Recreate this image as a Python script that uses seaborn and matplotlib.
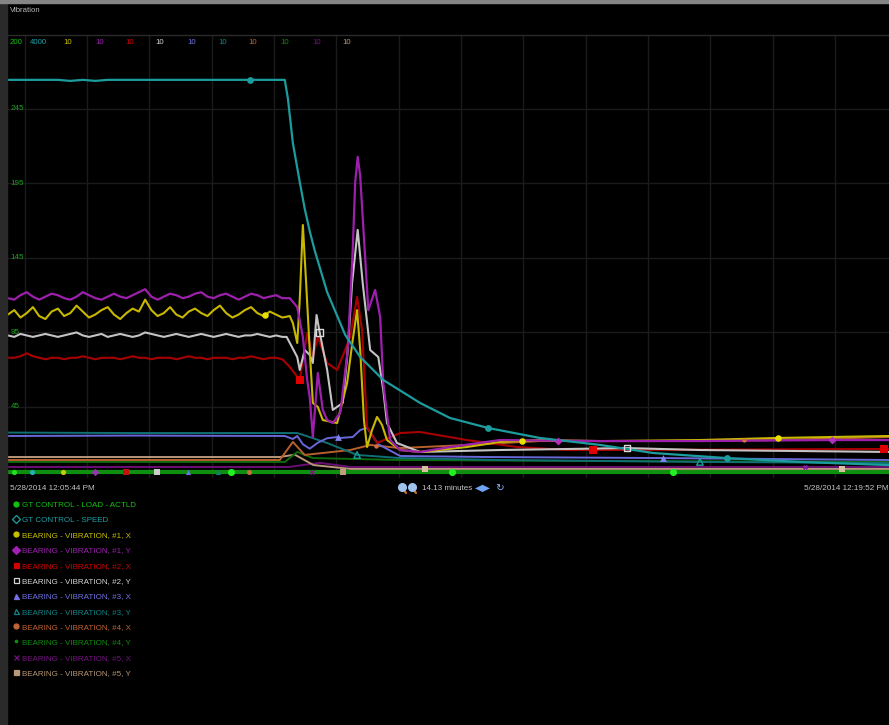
import numpy as np
import pandas as pd
import matplotlib
matplotlib.use("Agg")
import matplotlib.pyplot as plt
from matplotlib.lines import Line2D
from matplotlib.patches import Rectangle
import seaborn as sns

# ---------------- data (time in minutes from 12:05:44 PM, values in left-axis units) -------------
t_early = [0.0, 0.1, 0.2, 0.3, 0.4, 0.5, 0.6, 0.7, 0.8, 0.9, 1.0, 1.1, 1.2, 1.3, 1.4,
           1.5, 1.6, 1.7, 1.8, 1.9, 2.0, 2.1, 2.2, 2.3, 2.4, 2.5, 2.6, 2.7, 2.8, 2.9,
           3.0, 3.1, 3.2, 3.3, 3.4, 3.5, 3.6, 3.7, 3.8, 3.9, 4.0, 4.1, 4.2, 4.3, 4.4]

v_mag_early = [118, 117, 120, 122, 119, 117, 119, 121, 120, 118, 117, 119, 122, 120, 118,
               117, 119, 121, 119, 118, 120, 122, 124, 119, 117, 119, 121, 120, 118, 119,
               121, 122, 119, 118, 120, 121, 119, 117, 119, 121, 120, 118, 119, 120, 118]
v_yel_early = [107, 110, 105, 108, 112, 106, 104, 109, 111, 106, 108, 113, 109, 105, 107,
               110, 112, 107, 104, 108, 111, 109, 117, 110, 106, 108, 112, 107, 105, 109,
               111, 108, 106, 110, 113, 108, 105, 107, 110, 112, 108, 106, 109, 107, 105]
v_wht_early = [93, 92, 94, 93, 92, 93, 94, 93, 92, 93, 94, 95, 93, 92, 93,
               94, 92, 93, 94, 93, 92, 93, 95, 94, 93, 92, 93, 94, 93, 92,
               93, 94, 93, 92, 93, 94, 93, 92, 93, 93, 94, 93, 92, 93, 92]
v_red_early = [78, 78, 79, 81, 79, 78, 77, 78, 78, 77, 78, 78, 79, 78, 77,
               78, 78, 78, 77, 78, 79, 78, 78, 77, 78, 78, 78, 77, 78, 79,
               78, 78, 77, 78, 78, 78, 77, 78, 78, 79, 78, 77, 78, 78, 77]

t_mag_late = [4.52, 4.64, 4.73, 4.80, 4.84, 4.89, 4.97, 5.05, 5.12, 5.21, 5.33, 5.45, 5.53, 5.57,
              5.61, 5.65, 5.69, 5.78, 5.89, 5.97, 6.02, 6.13, 6.29, 6.61, 7.09, 7.89, 9.50, 11.10,
              13.22, 14.13]
v_mag_late = [118, 112, 92, 63, 51.7, 24.8, 67.8, 43, 36.2, 34.2, 41, 83.2, 150.3, 196,
              212.8, 200, 172.5, 110, 123.5, 105.4, 61, 22.8, 16.1, 14.8, 18.1, 22.8, 22.1, 22.1,
              22.8, 22.8]

t_yel_late = [4.52, 4.57, 4.64, 4.68, 4.73, 4.78, 4.84, 4.89, 4.97, 5.05, 5.28, 5.44, 5.53, 5.60,
              5.65, 5.71, 5.76, 5.84, 5.92, 6.00, 6.08, 6.29, 6.61, 7.36, 7.89, 8.53, 9.50, 11.10,
              12.35, 14.13]
v_yel_late = [106, 101.3, 87.9, 116.8, 167.1, 130.2, 83.2, 47.7, 45, 36.2, 34.2, 61.1, 90, 110,
              83.2, 36.2, 18.1, 29.5, 38.3, 32.9, 22.8, 16.1, 14.8, 18.1, 21.5, 22.8, 22.1, 22.8,
              24.2, 25.5]

t_wht_late = [4.47, 4.64, 4.68, 4.76, 4.84, 4.89, 4.95, 5.00, 5.12, 5.21, 5.37, 5.45, 5.52, 5.61,
              5.69, 5.81, 5.94, 6.02, 6.08, 6.24, 6.61, 7.89, 9.93, 11.10, 14.13]
v_wht_late = [92, 78.5, 69.8, 83.2, 79.9, 74.5, 106.7, 95, 69.8, 43, 47.7, 83.2, 128.2, 163.8,
              128.2, 83.2, 78.5, 56.4, 34.2, 20.8, 14.8, 16.1, 17.4, 16.1, 14.8]

t_red_late = [4.52, 4.68, 4.80, 4.89, 4.97, 5.12, 5.28, 5.49, 5.60, 5.68, 5.76, 5.92, 6.29, 6.61,
              7.36, 8.17, 8.97, 9.38, 14.13]
v_red_late = [71.8, 63.1, 94.6, 78.5, 91.9, 74.5, 69.8, 91.9, 118.8, 96.6, 31.5, 20.8, 27.5, 28.2,
              22.8, 18.1, 16.1, 16.1, 16.8]

t_speed = [0, 0.8, 1.0, 1.2, 1.4, 1.6, 4.44, 4.49, 4.57, 4.68, 4.76, 4.84, 4.92, 5.12, 5.41, 5.65,
           6.02, 6.61, 7.09, 7.70, 8.53, 9.50, 10.35, 11.53, 12.71, 14.13]
v_speed = [264.5, 264.5, 263.8, 264.5, 263.8, 264.5, 264.5, 252, 222, 196, 178, 163, 150, 122,
           93.3, 78.5, 63.1, 47.7, 37.6, 30.9, 24.2, 19.5, 14.1, 10.7, 8.1, 6.0]

t_blue = [0, 2.0, 4.44, 4.57, 4.64, 4.73, 4.84, 4.97, 5.12, 5.28, 5.33, 5.53, 5.65, 5.76, 5.94,
          6.29, 7.70, 10.51, 14.13]
v_blue = [25.5, 25.8, 25.5, 23.5, 25.5, 20, 17, 21, 24, 24.8, 24.2, 24.8, 29.5, 31, 20,
          12.1, 11.4, 10.7, 9.4]

t_teal = [0, 2.0, 4.52, 4.64, 4.84, 5.12, 5.60, 6.29, 7.89, 11.10, 14.13]
v_teal = [27.8, 27.5, 27.5, 27.5, 24.8, 20.8, 12.8, 10.7, 9.4, 8.1, 7.4]

t_orange = [0, 4.36, 4.57, 4.76, 5.49, 5.81, 6.29, 7.36, 8.53, 10.35, 12.35, 14.13]
v_orange = [9.4, 9.4, 21.5, 12.8, 16.1, 19.5, 17.4, 19.5, 22.1, 22.1, 22.8, 24.8]

t_dgreen = [0, 4.44, 4.64, 4.89, 6.29, 9.50, 14.13]
v_dgreen = [8.1, 8.1, 14.8, 10.7, 9.4, 8.7, 8.1]

t_purple = [0, 4.5, 5.0, 5.5, 14.13]
v_purple = [4.7, 4.7, 7.5, 4.7, 4.7]

t_tan = [0, 4.36, 4.6, 4.9, 5.5, 14.13]
v_tan = [11.4, 11.4, 13, 6, 3.4, 3.4]

t_load = [0, 14.13]
v_load = [1.3, 1.3]

series_names = ["GT CONTROL - LOAD - ACTLD", "GT CONTROL - SPEED",
                "BEARING - VIBRATION, #1, X", "BEARING - VIBRATION, #1, Y",
                "BEARING - VIBRATION, #2, X", "BEARING - VIBRATION, #2, Y",
                "BEARING - VIBRATION, #3, X", "BEARING - VIBRATION, #3, Y",
                "BEARING - VIBRATION, #4, X", "BEARING - VIBRATION, #4, Y",
                "BEARING - VIBRATION, #5, X", "BEARING - VIBRATION, #5, Y"]
scale_labels = ["200", "4000", "10", "10", "10", "10", "10", "10", "10", "10", "10", "10"]
ytick_vals = [45, 95, 145, 195, 245]
ytick_labels = ["45", "95", "145", "195", "245"]
minute_marks = [0.267 + k for k in range(14)]
# marker times for each series
mk_load = [3.58, 7.12, 10.67]
mk_speed = [3.88, 7.70, 11.53]
mk_yel = [4.12, 8.25, 12.35]
mk_mag = [8.83, 13.22]
mk_red = [4.68, 9.38, 14.06]
mk_wht = [5.00, 9.93]
mk_blue = [5.29, 10.51]
mk_teal = [5.60, 11.10]
mk_orange = [5.90, 11.80]
mk_purple = [12.78]
mk_tan = [6.69, 13.38]
band_times = [0.10, 0.38, 0.88, 1.40, 1.89, 2.39, 2.89, 3.37, 3.87, 4.38, 4.88, 5.37]
start_label = "5/28/2014 12:05:44 PM"
end_label = "5/28/2014 12:19:52 PM"
span_label = "14.13 minutes"

# ---------------- styling ----------------
sns.set_theme(style="dark")
plt.rcParams['font.family'] = ['Liberation Sans', 'DejaVu Sans']

W, H = 889, 725
fig = plt.figure(figsize=(W / 100, H / 100), dpi=100, facecolor='black')

def fx(px):
    return px / W

def fy(py):
    return 1 - py / H

ax = fig.add_axes([fx(8), fy(478), fx(881), (478 - 35) / H])
ax.set_facecolor('black')
ax.set_xlim(0, 14.133)
ax.set_ylim(-2.68, 294.6)

colors = {
    'load': '#0f8f0f', 'speed': '#1c9c9e', 'yel': '#c8b800', 'mag': '#9c20ac',
    'red': '#a80000', 'wht': '#c4c4c4', 'blue': '#6868d8', 'teal': '#0f6f72',
    'orange': '#b8602c', 'dgreen': '#0d6a0d', 'purple': '#6a1074', 'tan': '#b8987a'}
legend_colors = ['#12c012', '#1fa0a6', '#c8c000', '#a020b4', '#d00000', '#d4d4d4',
                 '#7272e6', '#108488', '#c06434', '#0f8a0f', '#761282', '#b89878']

# grid
ax.set_xticks(minute_marks)
ax.set_yticks(ytick_vals)
ax.grid(True, color='#1b1b1b', lw=1.0)
ax.tick_params(labelleft=False, labelbottom=False, length=0)
for s in ['left', 'right', 'bottom']:
    ax.spines[s].set_visible(False)
ax.spines['top'].set_color('#2a2a2a')
ax.spines['top'].set_linewidth(1.0)

def line(t, v, c, lw=1.5, z=2):
    df = pd.DataFrame({'t': t, 'v': v})
    sns.lineplot(data=df, x='t', y='v', ax=ax, color=c, lw=lw, estimator=None,
                 sort=False, zorder=z, legend=False)

def marks(tmk, t, v, c, m, s=22, open_=False, z=4):
    yv = np.interp(tmk, t, v)
    df = pd.DataFrame({'t': tmk, 'v': yv})
    if open_:
        sns.scatterplot(data=df, x='t', y='v', ax=ax, marker=m, s=s, facecolors='none',
                        edgecolor=c, linewidth=1.0, zorder=z, legend=False)
    else:
        sns.scatterplot(data=df, x='t', y='v', ax=ax, marker=m, s=s, color=c,
                        linewidth=0, zorder=z, legend=False)

t_mag = t_early + t_mag_late
v_mag = v_mag_early + v_mag_late
t_yel = t_early + t_yel_late
v_yel = v_yel_early + v_yel_late
t_wht = t_early + t_wht_late
v_wht = v_wht_early + v_wht_late
t_red = t_early + t_red_late
v_red = v_red_early + v_red_late

line(t_load, v_load, colors['load'], lw=3.0, z=2)
line(t_purple, v_purple, colors['purple'], lw=1.4)
line(t_tan, v_tan, colors['tan'], lw=1.4)
line(t_dgreen, v_dgreen, colors['dgreen'], lw=1.4)
line(t_orange, v_orange, colors['orange'], lw=1.4)
line(t_teal, v_teal, colors['teal'], lw=1.4)
line(t_blue, v_blue, colors['blue'], lw=1.4)
line(t_red, v_red, colors['red'], lw=1.5)
line(t_wht, v_wht, colors['wht'], lw=1.5)
line(t_yel, v_yel, colors['yel'], lw=1.5)
line(t_mag, v_mag, colors['mag'], lw=1.6)
line(t_speed, v_speed, colors['speed'], lw=1.6)

marks(mk_load, t_load, v_load, '#22f022', 'o', s=26)
marks(mk_speed, t_speed, v_speed, colors['speed'], 'o', s=24)
marks(mk_yel, t_yel, v_yel, '#e8e000', 'o', s=22)
marks(mk_mag, t_mag, v_mag, '#b030c0', 'D', s=16)
marks(mk_red, t_red, v_red, '#e00000', 's', s=26)
marks(mk_wht, t_wht, v_wht, '#dddddd', 's', s=22, open_=True)
marks(mk_blue, t_blue, v_blue, '#8080f0', '^', s=24)
marks(mk_teal, t_teal, v_teal, '#1a9a9a', '^', s=22, open_=True)
marks(mk_orange, t_orange, v_orange, '#d07040', 'o', s=10)
marks(mk_purple, t_purple, v_purple, '#8a20a0', 'X', s=14)
marks(mk_tan, t_tan, v_tan, '#d8c0a0', 's', s=14)

band_colors = ['#22e022', '#22b0b0', '#d0c800', '#a030b8', '#c01010', '#cccccc',
               '#7070e0', '#138080', '#c07038', '#108c10', '#80188c', '#c0a080']
band_markers = ['o', 'o', 'o', 'D', 's', 's', '^', '^', 'o', '.', 'X', 's']
for bt, bc, bm in zip(band_times, band_colors, band_markers):
    sns.scatterplot(x=[bt], y=[v_load[0]], ax=ax, marker=bm, s=14, color=bc,
                    linewidth=0, zorder=5, legend=False)

# y tick labels inside the plot
for yv, yl in zip(ytick_vals, ytick_labels):
    ax.text(0.04, yv, yl, color='#1aa01a', fontsize=5.8, va='center', ha='left', zorder=6)

# scale header row
header_px = [10, 30, 63, 95, 125, 155, 187, 218, 248, 280, 312, 342]
for px, lab, c in zip(header_px, scale_labels, legend_colors):
    fig.text(fx(px), fy(42.5), lab, color=c, fontsize=5.6, va='center', ha='left')

# frame decorations
fig.patches.append(Rectangle((0, 0), fx(7), 1, transform=fig.transFigure,
                             color='#2a2a2a', zorder=0))
fig.patches.append(Rectangle((0, fy(3)), 1, 3 / H, transform=fig.transFigure,
                             color='#858585', zorder=0))
fig.text(fx(10), fy(11), "Vibration", color='#b8b8b8', fontsize=5.6, va='center', ha='left')

# time labels
fig.text(fx(10), fy(488), start_label, color='#c4c4c4', fontsize=5.9, va='center', ha='left')
fig.text(fx(889), fy(488), end_label, color='#c4c4c4', fontsize=5.9, va='center', ha='right')
fig.text(fx(422), fy(488), span_label, color='#c4c4c4', fontsize=5.8, va='center', ha='left')
for cx in [402, 412]:
    fig.add_artist(Line2D([fx(cx + 1), fx(cx + 4)], [fy(489), fy(493)], color='#d07020',
                          lw=1.6, transform=fig.transFigure))
    fig.add_artist(Line2D([fx(cx)], [fy(486.5)], marker='o', ms=5.5, color='#9ec4ee',
                          transform=fig.transFigure))
fig.text(fx(475), fy(488), "\u25C0\u25B6", color='#6fa4f4', fontsize=7.5, va='center',
         ha='left', family=['DejaVu Sans'])
fig.text(fx(495), fy(488), "\u21BB", color='#8ab4f4', fontsize=7.5, va='center',
         ha='left', family=['DejaVu Sans'])

# legend
leg_markers = ['o', 'D', 'o', 'D', 's', 's', '^', '^', 'o', '.', 'x', 's']
leg_fill = [True, False, True, True, True, False, True, False, True, True, True, True]
handles = []
for m, c, f in zip(leg_markers, legend_colors, leg_fill):
    handles.append(Line2D([], [], linestyle='none', marker=m, markersize=3.6,
                          markerfacecolor=c if f else 'none', markeredgecolor=c,
                          markeredgewidth=0.9))
fig.legend(handles, series_names, loc='upper left', bbox_to_anchor=(fx(13), fy(501)),
           frameon=False, labelcolor=legend_colors, prop={'family': 'Liberation Sans', 'size': 5.8},
           handlelength=0.7, handletextpad=0.45, labelspacing=0.95, borderpad=0,
           borderaxespad=0)

fig.savefig("out.png", dpi=100, facecolor='black')
